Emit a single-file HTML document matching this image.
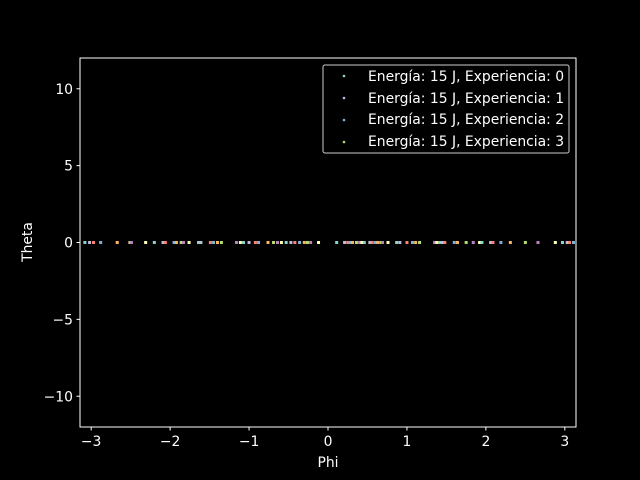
<!DOCTYPE html>
<html><head><meta charset="utf-8"><style>
html,body{margin:0;padding:0;background:#000;}
svg{display:block;font-family:"DejaVu Sans","Liberation Sans",sans-serif;}
</style></head><body>
<svg id="chart" width="640" height="480" xmlns="http://www.w3.org/2000/svg">
<rect width="640" height="480" fill="#000"/>
<g id="points"></g>
<rect x="80" y="58" width="496" height="369" fill="none" stroke="#fff" stroke-width="1"/>
<g id="xticks"></g>
<g id="yticks"></g>
<text x="328" y="467" fill="#fff" font-size="13.9" text-anchor="middle">Phi</text>
<text x="32" y="242" fill="#fff" font-size="13.9" text-anchor="middle" transform="rotate(-90 32 242)">Theta</text>
<g>
<rect x="323" y="65" width="246" height="88" rx="2" fill="#000" stroke="#ccc" stroke-width="1"/>
<circle cx="344" cy="76" r="1.3" fill="#8dd3c7"/>
<text x="368" y="81" fill="#fff" font-size="13.9">Energía: 15 J, Experiencia: 0</text>
<circle cx="344" cy="98" r="1.3" fill="#bfbbd9"/>
<text x="368" y="103" fill="#fff" font-size="13.9">Energía: 15 J, Experiencia: 1</text>
<circle cx="344" cy="120" r="1.3" fill="#81b1d2"/>
<text x="368" y="124" fill="#fff" font-size="13.9">Energía: 15 J, Experiencia: 2</text>
<circle cx="344" cy="142" r="1.3" fill="#b3de69"/>
<text x="368" y="146" fill="#fff" font-size="13.9">Energía: 15 J, Experiencia: 3</text>
</g>
</svg>
<script>
const phiValues = [-3.08,-3.02,-2.97,-2.88,-2.67,-2.51,-2.49,-2.31,-2.20,-2.09,-2.06,-1.95,-1.92,-1.86,-1.83,-1.76,-1.64,-1.61,-1.49,-1.45,-1.40,-1.35,-1.16,-1.11,-1.07,-1.00,-0.92,-0.88,-0.76,-0.69,-0.64,-0.59,-0.53,-0.47,-0.42,-0.36,-0.30,-0.26,-0.22,-0.12,
0.11,0.21,0.25,0.28,0.31,0.36,0.40,0.43,0.46,0.53,0.56,0.60,0.63,0.67,0.69,0.76,0.87,0.91,1.00,1.07,1.11,1.16,1.35,1.38,1.42,1.45,1.48,1.60,1.64,1.75,1.84,1.92,1.95,2.06,2.09,2.19,2.31,2.50,2.66,2.88,2.97,3.03,3.06,3.11];
const thetaValues = phiValues.map(()=>0);
const xTickValues = [-3,-2,-1,0,1,2,3];
const yTickValues = [-10,-5,0,5,10];
const palette = ["#8dd3c7","#bfbbd9","#fa8174","#81b1d2","#fdb462","#b3de69","#bc82bd","#feffb3"];
const X0=80,X1=576,Y0=58,Y1=427, xMin=-Math.PI, xMax=Math.PI, yMin=-12, yMax=12;
const xs=v=>X0+(v-xMin)/(xMax-xMin)*(X1-X0);
const ys=v=>Y1-(v-yMin)/(yMax-yMin)*(Y1-Y0);
const NS="http://www.w3.org/2000/svg";
const pg=document.getElementById('points');
phiValues.forEach((p,i)=>{
  const c=document.createElementNS(NS,'rect');
  c.setAttribute('x',xs(p)-1.5);c.setAttribute('y',ys(thetaValues[i])-1.5);
  c.setAttribute('width',3);c.setAttribute('height',3);
  c.setAttribute('fill',palette[i%palette.length]);
  
  
  pg.appendChild(c);
});
const xg=document.getElementById('xticks');
xTickValues.forEach(v=>{
  const x=xs(v);
  const l=document.createElementNS(NS,'line');
  l.setAttribute('x1',x);l.setAttribute('x2',x);l.setAttribute('y1',Y1);l.setAttribute('y2',Y1+3.5);l.setAttribute('stroke','#fff');
  
  
  xg.appendChild(l);
  const t=document.createElementNS(NS,'text');
  t.setAttribute('x',x);t.setAttribute('y',Y1+19);t.setAttribute('fill','#fff');t.setAttribute('font-size','13.9');t.setAttribute('text-anchor','middle');
  t.textContent=v<0?'\u2212'+Math.abs(v):String(v);
  
  
  xg.appendChild(t);
});
const yg=document.getElementById('yticks');
yTickValues.forEach(v=>{
  const y=ys(v);
  const l=document.createElementNS(NS,'line');
  l.setAttribute('x1',X0-3.5);l.setAttribute('x2',X0);l.setAttribute('y1',y);l.setAttribute('y2',y);l.setAttribute('stroke','#fff');
  
  
  yg.appendChild(l);
  const t=document.createElementNS(NS,'text');
  t.setAttribute('x',X0-7);t.setAttribute('y',y+5);t.setAttribute('fill','#fff');t.setAttribute('font-size','13.9');t.setAttribute('text-anchor','end');
  t.textContent=v<0?'\u2212'+Math.abs(v):String(v);
  
  
  yg.appendChild(t);
});
</script>
</body></html>
